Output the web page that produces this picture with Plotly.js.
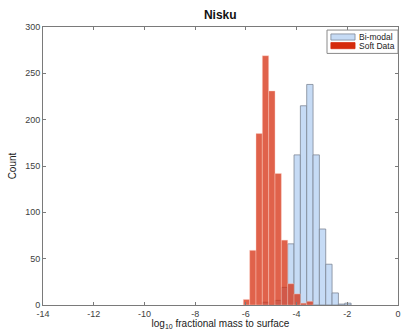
<!DOCTYPE html>
<html>
<head>
<meta charset="utf-8">
<script src="https://cdn.plot.ly/plotly-3.0.1.min.js"></script>
<style>html,body{margin:0;padding:0;background:#fff;}#chart{width:402px;height:330px;}</style>
</head>
<body>
<div id="chart"></div>
<script>
// Bin centers (bin width 0.25)
const blueCenters = [-5.225, -4.975, -4.725, -4.475, -4.225, -3.975, -3.725, -3.475, -3.225, -2.975, -2.725, -2.475, -2.225, -1.975];
const blueCounts  = [3, 0, 5, 19, 66, 162, 215, 238, 162, 82, 44, 13, 1, 2];
const redCenters  = [-5.975, -5.725, -5.475, -5.225, -4.975, -4.725, -4.475, -4.225, -3.975, -3.725, -3.475];
const redCounts   = [6, 59, 185, 269, 231, 142, 70, 23, 12, 2, 4];
const seriesNames = ["Bi-modal", "Soft Data"];
const xTicks = [-14, -12, -10, -8, -6, -4, -2, 0];
const yTicks = [0, 50, 100, 150, 200, 250, 300];
const binWidth = 0.25;

const font = "Liberation Sans, Arial, Helvetica, sans-serif";
const axisColor = "#7a7a7a";
const tickFontColor = "#404040";
const blueFill = "rgb(198,219,245)";
const blueEdge = "rgb(125,135,150)";
const redLegend = "rgb(213,43,12)";

const traces = [
  {
    type: "bar", name: seriesNames[0], x: blueCenters, y: blueCounts, width: binWidth,
    marker: {color: blueFill, line: {color: blueEdge, width: 0.8}}
  },
  {
    type: "bar", name: seriesNames[1], x: redCenters, y: redCounts, width: binWidth,
    marker: {color: "rgba(213,43,12,0.74)", line: {color: "rgba(255,215,205,0.7)", width: 0.6}}
  }
];

const axisCommon = {
  showline: true, linecolor: axisColor, linewidth: 1, mirror: "ticks",
  ticks: "inside", ticklen: 3, tickcolor: axisColor, showgrid: false, zeroline: false,
  tickfont: {family: font, size: 9, color: tickFontColor}
};

// Legend (MATLAB style) drawn in paper coordinates
const legendShapes = [
  {type: "rect", xref: "paper", yref: "paper", x0: 0.80, x1: 1.0, y0: 0.905, y1: 0.989,
   line: {color: "#8a8a8a", width: 1}, fillcolor: "#fff"},
  {type: "rect", xref: "paper", yref: "paper", x0: 0.811, x1: 0.879, y0: 0.953, y1: 0.975,
   line: {color: blueEdge, width: 0.8}, fillcolor: blueFill},
  {type: "rect", xref: "paper", yref: "paper", x0: 0.811, x1: 0.879, y0: 0.922, y1: 0.944,
   line: {color: redLegend, width: 0.8}, fillcolor: redLegend}
];
const legendTexts = [
  {xref: "paper", yref: "paper", x: 0.884, y: 0.964, xanchor: "left", yanchor: "middle", showarrow: false,
   text: seriesNames[0], font: {family: font, size: 8.5, color: "#222"}},
  {xref: "paper", yref: "paper", x: 0.884, y: 0.933, xanchor: "left", yanchor: "middle", showarrow: false,
   text: seriesNames[1], font: {family: font, size: 8.5, color: "#222"}}
];

const layout = {
  width: 402, height: 330,
  margin: {l: 43, r: 4, t: 27, b: 25},
  paper_bgcolor: "#fff", plot_bgcolor: "#fff",
  barmode: "overlay", bargap: 0,
  title: {text: "<b>Nisku</b>", font: {family: font, size: 12, color: "#111"}, x: 0.548, xanchor: "center", y: 0.955, yanchor: "middle"},
  xaxis: Object.assign({}, axisCommon, {
    range: [-14, 0], tickvals: xTicks, ticktext: xTicks.map(String),
    title: {text: "log<sub>10</sub> fractional mass to surface", font: {family: font, size: 10, color: "#222"}, standoff: 1}
  }),
  yaxis: Object.assign({}, axisCommon, {
    range: [0, 300], tickvals: yTicks, ticktext: yTicks.map(String),
    title: {text: "Count", font: {family: font, size: 10, color: "#222"}, standoff: 6}
  }),
  shapes: legendShapes,
  annotations: legendTexts,
  showlegend: false
};

Plotly.newPlot("chart", traces, layout, {displayModeBar: false, staticPlot: true});
</script>
</body>
</html>
